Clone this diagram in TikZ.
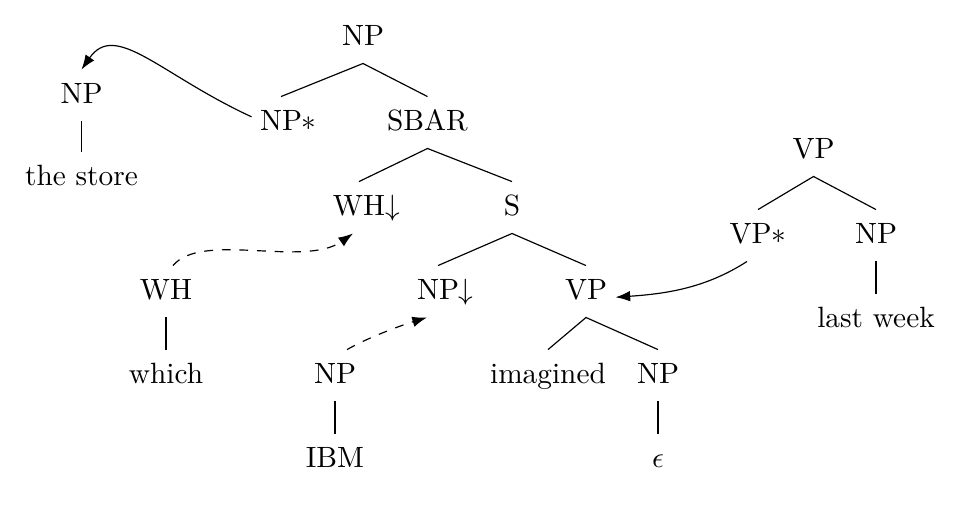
\documentclass[tikz,border=0pt]{standalone}
\usetikzlibrary{arrows.meta}
\begin{document}
\begin{tikzpicture}[x=0.340909pt, y=-0.340909pt,
  lab/.style={anchor=base, text height=7.2pt, text depth=2.1pt, inner xsep=2.7pt, inner ysep=4pt},
  br/.style={line width=0.4pt},
  mv/.style={line width=0.4pt, -{Latex[length=5pt,width=3.6pt]}},
  mvd/.style={mv, dashed}]
\useasboundingbox (0,0) rectangle (968,507);
% nodes
\node[lab] (np0) at (363,45) {NP};
\node[lab] (npl) at (81.5,103) {NP};
\node[lab] (npstar) at (281,130) {NP\rlap{$*$}};
\node[lab] (sbar) at (427.5,130) {SBAR};
\node[lab] (store) at (81.5,185) {the store};
\node[lab] (whd) at (359,215) {WH\rlap{$\downarrow$}};
\node[lab] (s) at (512,215) {S};
\node[lab] (vpt) at (813.5,158) {VP};
\node[lab] (vpstar) at (758,243) {VP$*$};
\node[lab] (npr) at (876,243) {NP};
\node[lab] (lastweek) at (876,327) {last week};
\node[lab] (wh) at (166,299) {WH};
\node[lab] (npd) at (438,299) {NP\rlap{$\downarrow$}};
\node[lab] (vp) at (586,299) {VP};
\node[lab] (which) at (166,383) {which};
\node[lab] (npibm) at (335,383) {NP};
\node[lab] (imagined) at (548,383) {imagined};
\node[lab] (npe) at (658,383) {NP};
\node[lab] (ibm) at (335,467) {IBM};
\node[lab] (eps) at (658,467) {$\epsilon$};
% tree branches
\draw[br] (npstar.north) -- (np0.south) -- (sbar.north);
\draw[br] (whd.north) -- (sbar.south) -- (s.north);
\draw[br] (npd.north) -- (s.south) -- (vp.north);
\draw[br] (imagined.north) -- (vp.south) -- (npe.north);
\draw[br] (vpstar.north) -- (vpt.south) -- (npr.north);
\draw[br] (npl.south) -- (store.north);
\draw[br] (wh.south) -- (which.north);
\draw[br] (npibm.south) -- (ibm.north);
\draw[br] (npe.south) -- (eps.north);
\draw[br] (npr.south) -- (lastweek.north);
% arrows
\draw[mv] (npstar.169) .. controls +(-91,-42) and +(34,-49) .. (npl.north);
\draw[mv] (vpstar.247) .. controls +(-42,27) and +(50,-3.5) .. (vp.-11);
\draw[mvd] (wh.75) .. controls +(29,-34.5) and +(-49,34.4) .. (whd.257);
\draw[mvd] (npibm.65) .. controls +(21.6,-12.5) and +(-24,7.3) .. (npd.247);
\end{tikzpicture}
\end{document}
